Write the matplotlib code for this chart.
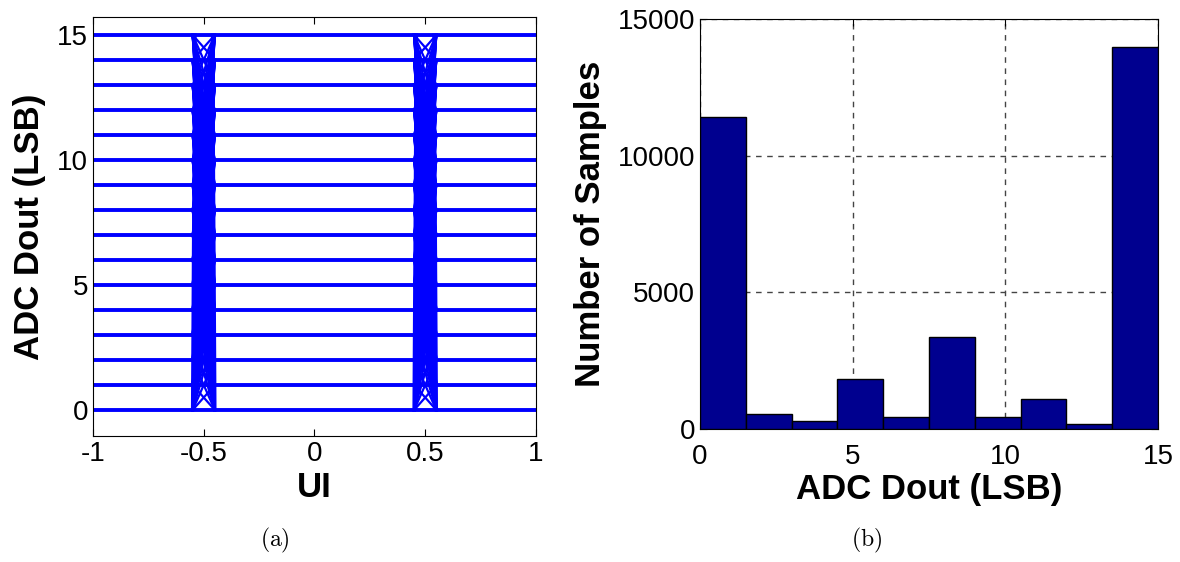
import numpy as np
from matplotlib import pyplot as plt

plt.rcParams['font.family'] = ['Liberation Sans', 'DejaVu Sans']
plt.rcParams['mathtext.fontset'] = 'cm'

# eye diagram: ADC output codes and where the symbol edges sit (UI)
levels = list(range(16))
edge_left = [-0.55, -0.45]
edge_right = [0.45, 0.55]

# histogram of ADC Dout
bin_edges = [0, 1.5, 3, 4.5, 6, 7.5, 9, 10.5, 12, 13.5, 15]
counts = [11400, 540, 290, 1820, 430, 3380, 430, 1100, 170, 13990]

blue = (0, 0, 1)

fig = plt.figure(figsize=(11.8, 5.62), dpi=100)

# ---- (a) eye diagram ----
ax1 = fig.add_axes([0.0788, 0.2242, 0.3754, 0.7456])
for lv in levels:
    ax1.plot([-1, 1], [lv, lv], color=blue, lw=2.8, solid_capstyle='butt')
for e in (edge_left, edge_right):
    for a in levels:
        for b in levels:
            if a != b:
                ax1.plot(e, [a, b], color=blue, lw=1.6)
    # near-vertical edges of the band
    ax1.plot([e[0], e[0] + 0.01], [0, 15], color=blue, lw=2.5)
    ax1.plot([e[1], e[1] - 0.01], [0, 15], color=blue, lw=2.5)
ax1.set_xlim(-1, 1)
ax1.set_ylim(-1.04, 15.72)
ax1.set_xticks([-1, -0.5, 0, 0.5, 1])
ax1.set_xticklabels(["-1", "-0.5", "0", "0.5", "1"])
ax1.set_yticks([0, 5, 10, 15])
ax1.tick_params(direction='in', top=True, right=True, labelsize=20, length=5)
ax1.set_xlabel("UI", fontsize=25, fontweight='bold', labelpad=3)
ax1.set_ylabel("ADC Dout (LSB)", fontsize=25, fontweight='bold', labelpad=8)

# ---- (b) histogram ----
ax2 = fig.add_axes([0.5932, 0.2367, 0.3882, 0.7296])
ax2.set_axisbelow(True)
ax2.grid(True, linestyle=(0, (4, 4)), color='#444444', lw=1)
widths = np.diff(bin_edges)
ax2.bar(bin_edges[:-1], counts, width=widths, align='edge',
        color='#00008F', edgecolor='black', lw=1, zorder=3)
ax2.set_xlim(0, 15)
ax2.set_ylim(0, 15000)
ax2.set_xticks([0, 5, 10, 15])
ax2.set_yticks([0, 5000, 10000, 15000])
ax2.tick_params(direction='in', top=True, right=True, labelsize=20, length=5)
ax2.tick_params(axis='x', pad=11)
ax2.set_xlabel("ADC Dout (LSB)", fontsize=25, fontweight='bold', labelpad=2)
ax2.set_ylabel("Number of Samples", fontsize=25, fontweight='bold', labelpad=8)

fig.text(0.233, 0.012, r"$\mathrm{(a)}$", fontsize=17, ha='center', va='bottom')
fig.text(0.734, 0.012, r"$\mathrm{(b)}$", fontsize=17, ha='center', va='bottom')

fig.savefig("out.png", dpi=100)
